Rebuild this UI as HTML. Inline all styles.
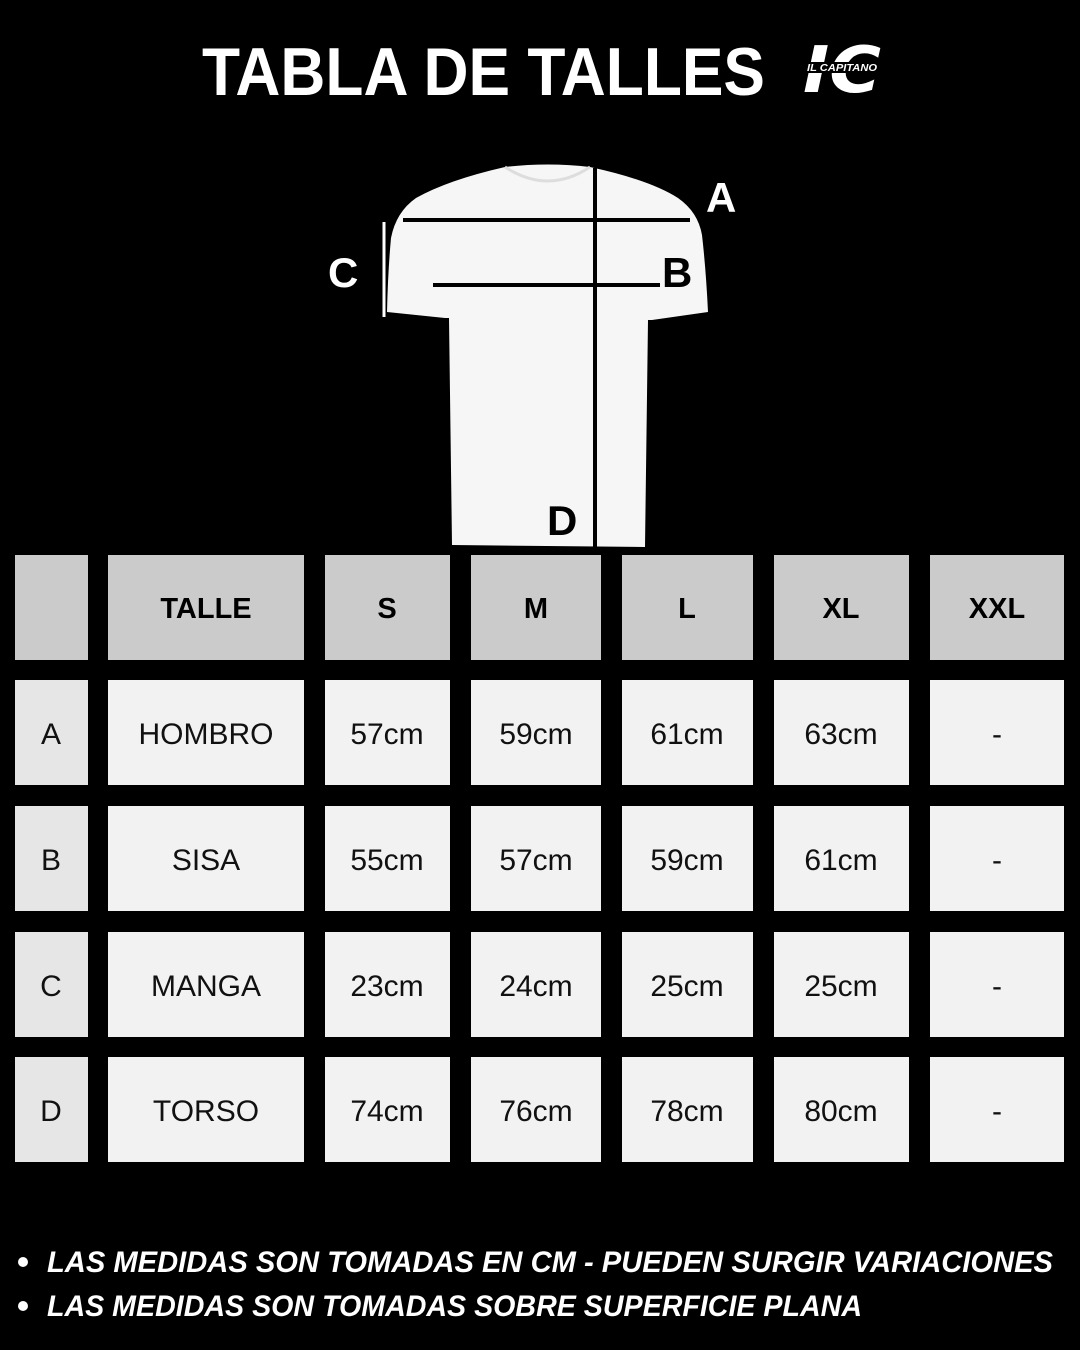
<!DOCTYPE html>
<html><head><meta charset="utf-8"><style>
html,body{margin:0;padding:0;background:#000;}
svg{display:block;}
text{font-family:"Liberation Sans","DejaVu Sans",sans-serif;}
</style></head><body>
<svg width="1080" height="1350" viewBox="0 0 1080 1350" xmlns="http://www.w3.org/2000/svg">
<rect width="1080" height="1350" fill="#000"/>
<text x="202" y="95" font-size="68" font-weight="bold" fill="#fff" textLength="563" lengthAdjust="spacingAndGlyphs">TABLA DE TALLES</text>
<!-- logo -->
<g fill="#fff">
<text x="803" y="92" font-size="64" font-weight="bold" font-style="italic" textLength="78" lengthAdjust="spacingAndGlyphs" style="font-family:'DejaVu Sans',sans-serif">IC</text>
<rect x="800" y="62" width="82" height="11" fill="#000"/>
<text x="807" y="71" font-size="10" font-weight="bold" font-style="italic" textLength="70" lengthAdjust="spacingAndGlyphs">IL CAPITANO</text>
</g>
<!-- shirt -->
<path d="M505,167 Q548,162 590,167 Q650,180 678,198 Q698,212 702,235 Q706,270 708,312 L652,320 L648,320 L645,547 L452,545 L449,318 L445,318 L387,312 Q388,270 391,238 Q396,212 416,198 Q448,180 505,167 Z" fill="#f6f6f6"/>
<path d="M505,167 Q548,195 590,167" fill="none" stroke="#ddd" stroke-width="3"/>
<line x1="403" y1="220" x2="690" y2="220" stroke="#000" stroke-width="4"/>
<line x1="433" y1="285" x2="660" y2="285" stroke="#000" stroke-width="4"/>
<line x1="595" y1="168" x2="595" y2="547" stroke="#000" stroke-width="4"/>
<line x1="384" y1="222" x2="384" y2="317" stroke="#fff" stroke-width="3"/>
<g font-weight="bold" font-size="42">
<text x="706" y="212" fill="#fff">A</text>
<text x="662" y="287" fill="#000">B</text>
<text x="328" y="287" fill="#fff">C</text>
<text x="547" y="535" fill="#000">D</text>
</g>
<!-- table -->
<g fill="#cbcbcb">
<rect x="15" y="555" width="73" height="105"/>
<rect x="108" y="555" width="196" height="105"/>
<rect x="325" y="555" width="125" height="105"/>
<rect x="471" y="555" width="130" height="105"/>
<rect x="622" y="555" width="131" height="105"/>
<rect x="774" y="555" width="135" height="105"/>
<rect x="930" y="555" width="134" height="105"/>
</g>
<g font-weight="bold" font-size="29" fill="#000" text-anchor="middle">
<text x="206" y="618">TALLE</text>
<text x="387" y="618">S</text>
<text x="536" y="618">M</text>
<text x="687" y="618">L</text>
<text x="841" y="618">XL</text>
<text x="997" y="618">XXL</text>
</g>
<g fill="#e6e6e6">
<rect x="15" y="680" width="73" height="105"/><rect x="15" y="806" width="73" height="105"/><rect x="15" y="932" width="73" height="105"/><rect x="15" y="1057" width="73" height="105"/>
</g>
<g fill="#f2f2f2">
<rect x="108" y="680" width="196" height="105"/><rect x="325" y="680" width="125" height="105"/><rect x="471" y="680" width="130" height="105"/><rect x="622" y="680" width="131" height="105"/><rect x="774" y="680" width="135" height="105"/><rect x="930" y="680" width="134" height="105"/>
<rect x="108" y="806" width="196" height="105"/><rect x="325" y="806" width="125" height="105"/><rect x="471" y="806" width="130" height="105"/><rect x="622" y="806" width="131" height="105"/><rect x="774" y="806" width="135" height="105"/><rect x="930" y="806" width="134" height="105"/>
<rect x="108" y="932" width="196" height="105"/><rect x="325" y="932" width="125" height="105"/><rect x="471" y="932" width="130" height="105"/><rect x="622" y="932" width="131" height="105"/><rect x="774" y="932" width="135" height="105"/><rect x="930" y="932" width="134" height="105"/>
<rect x="108" y="1057" width="196" height="105"/><rect x="325" y="1057" width="125" height="105"/><rect x="471" y="1057" width="130" height="105"/><rect x="622" y="1057" width="131" height="105"/><rect x="774" y="1057" width="135" height="105"/><rect x="930" y="1057" width="134" height="105"/>
</g>
<g font-size="30" fill="#111" text-anchor="middle">
<text x="51" y="744">A</text><text x="206" y="744">HOMBRO</text><text x="387" y="744">57cm</text><text x="536" y="744">59cm</text><text x="687" y="744">61cm</text><text x="841" y="744">63cm</text><text x="997" y="744">-</text>
<text x="51" y="870">B</text><text x="206" y="870">SISA</text><text x="387" y="870">55cm</text><text x="536" y="870">57cm</text><text x="687" y="870">59cm</text><text x="841" y="870">61cm</text><text x="997" y="870">-</text>
<text x="51" y="996">C</text><text x="206" y="996">MANGA</text><text x="387" y="996">23cm</text><text x="536" y="996">24cm</text><text x="687" y="996">25cm</text><text x="841" y="996">25cm</text><text x="997" y="996">-</text>
<text x="51" y="1121">D</text><text x="206" y="1121">TORSO</text><text x="387" y="1121">74cm</text><text x="536" y="1121">76cm</text><text x="687" y="1121">78cm</text><text x="841" y="1121">80cm</text><text x="997" y="1121">-</text>
</g>
<g fill="#fff" font-weight="bold" font-style="italic" font-size="30">
<circle cx="23" cy="1262" r="5"/>
<circle cx="23" cy="1306" r="5"/>
<text x="47" y="1272" textLength="1006" lengthAdjust="spacingAndGlyphs">LAS MEDIDAS SON TOMADAS EN CM - PUEDEN SURGIR VARIACIONES</text>
<text x="47" y="1316" textLength="815" lengthAdjust="spacingAndGlyphs">LAS MEDIDAS SON TOMADAS SOBRE SUPERFICIE PLANA</text>
</g>
</svg>
</body></html>
